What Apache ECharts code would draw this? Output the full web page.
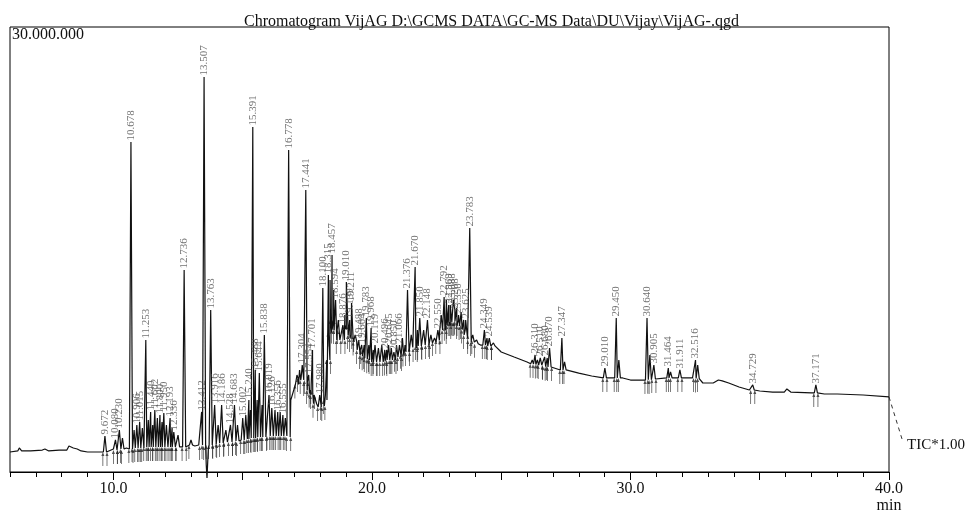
<!DOCTYPE html>
<html>
<head>
<meta charset="utf-8">
<script src="https://cdn.jsdelivr.net/npm/echarts@6/dist/echarts.min.js"></script>
<style>html,body{margin:0;padding:0;background:#fff}#c{width:969px;height:515px}</style>
</head>
<body>
<div id="c"></div>
<script>
// ---- data (intensity in millions of counts, time in min) ----
const titleText = 'Chromatogram VijAG D:\\GCMS DATA\\GC-MS Data\\DU\\Vijay\\VijAG-.qgd';
const xLabelValues = [10, 20, 30, 40];
const xMajorTicks = [10, 15, 20, 25, 30, 35, 40];
const yMax = 30;
const detectorLabel = 'TIC*1.00';

// baseline / drift of the trace [time, intensity]
const baseline = [
  [6.00,1.35],[6.30,1.42],[6.36,1.62],[6.45,1.42],[6.80,1.42],[7.25,1.48],[7.35,1.55],[7.50,1.42],
  [7.90,1.48],[8.20,1.48],[8.28,1.75],[8.45,1.62],[8.60,1.55],[8.75,1.42],[9.00,1.35],[9.50,1.35],
  [10.00,1.55],[10.50,1.62],[11.10,1.69],[12.00,1.69],[12.60,1.69],[12.95,1.82],[13.05,1.96],[13.15,1.75],
  [13.30,1.82],[13.59,0.50],[13.62,-0.40],[13.67,1.55],[14.00,1.96],[14.45,2.02],[15.10,2.16],[15.55,2.29],
  [16.00,2.43],[16.50,2.43],[16.70,2.36],[16.86,4.85],[17.00,5.66],[17.20,6.34],[17.38,6.14],[17.60,5.39],
  [17.85,4.52],[18.05,4.31],[18.20,4.85],[18.28,7.50],[18.40,9.60],[18.52,9.60],[18.72,8.90],[18.82,9.20],
  [19.05,9.90],[19.30,8.90],[19.60,7.89],[20.00,7.42],[20.50,7.42],[21.00,7.75],[21.30,8.09],[21.60,8.49],
  [22.00,8.56],[22.40,8.76],[22.70,9.57],[23.00,10.11],[23.30,10.25],[23.50,9.71],[23.70,9.03],[23.90,8.76],
  [24.20,8.56],[24.60,8.56],[25.00,8.09],[25.50,7.75],[26.00,7.42],[26.50,7.21],[27.00,7.01],[27.50,6.88],
  [28.00,6.67],[28.50,6.47],[29.00,6.34],[29.70,6.34],[30.00,6.20],[30.50,6.20],[31.00,6.27],[31.50,6.34],
  [32.00,6.34],[32.40,6.34],[32.80,6.00],[33.20,6.00],[33.40,6.20],[33.55,6.14],[33.80,6.00],[34.20,5.73],
  [34.60,5.53],[35.00,5.46],[35.50,5.39],[35.95,5.39],[36.05,5.60],[36.20,5.39],[37.00,5.33],[37.50,5.26],
  [38.00,5.26],[39.00,5.19],[40.00,5.06]
];

// labelled peaks [retention time, apex intensity, foot intensity]
const peaks = [
  [9.672,2.43,1.35],[10.080,2.16,1.48],[10.230,2.83,1.48],[10.678,22.25,1.55],[10.906,3.17,1.62],
  [11.015,3.37,1.62],[11.253,8.90,1.69],[11.440,4.05,1.69],[11.602,4.18,1.69],[11.800,3.84,1.69],
  [11.950,3.98,1.69],[12.193,3.64,1.69],[12.336,2.70,1.69],[12.736,13.62,1.69],[13.412,4.05,1.75],
  [13.507,26.63,1.82],[13.763,10.92,1.82],[13.916,4.52,1.89],[14.186,4.52,1.96],[14.528,3.17,2.02],
  [14.683,4.52,2.02],[15.002,3.64,2.16],[15.240,4.85,2.22],[15.391,23.26,2.29],[15.488,6.88,2.29],
  [15.644,6.67,2.36],[15.838,9.24,2.36],[16.019,5.19,2.43],[16.126,4.31,2.43],[16.356,4.05,2.43],
  [16.555,3.84,2.43],[16.778,21.71,2.36],[17.304,7.21,6.20],[17.441,19.01,6.07],[17.554,6.54,5.53],
  [17.701,8.23,5.19],[17.980,5.19,4.38],[18.100,12.40,4.45],[18.315,13.28,7.55],[18.457,14.63,10.25],
  [18.594,11.60,9.57],[18.876,9.91,8.90],[19.010,12.81,9.91],[19.139,10.25,9.24],[19.211,11.39,9.03],
  [19.488,8.90,8.23],[19.604,8.56,7.89],[19.783,10.38,7.69],[19.968,9.71,7.55],[20.119,8.56,7.42],
  [20.496,8.23,7.42],[20.645,8.56,7.55],[20.850,8.09,7.55],[21.066,8.56,7.75],[21.376,12.27,8.09],
  [21.670,13.82,8.36],[21.850,10.38,8.49],[22.148,10.25,8.56],[22.550,9.57,8.90],[22.792,11.80,9.57],
  [22.969,11.26,9.91],[23.088,11.26,10.11],[23.208,10.92,10.11],[23.350,10.58,9.91],[23.625,10.25,9.24],
  [23.783,16.45,8.90],[24.349,9.57,8.56],[24.539,9.03,8.49],[26.310,7.89,7.28],[26.510,7.69,7.21],
  [26.680,7.75,7.15],[26.870,8.36,7.08],[27.347,9.03,6.88],[29.010,7.01,6.34],[29.450,10.38,6.34],
  [30.640,10.38,6.20],[30.905,7.21,6.27],[31.464,7.01,6.34],[31.911,6.88,6.34],[32.516,7.55,6.34],
  [34.729,5.87,5.53],[37.171,5.87,5.33]
];

// unlabelled small peaks [retention time, apex intensity, foot intensity]
const minorPeaks = [
  [10.35,2.29,1.55],[10.80,2.83,1.62],[11.12,2.97,1.62],[11.35,3.51,1.69],[11.52,3.17,1.69],
  [11.70,3.64,1.69],[11.88,3.37,1.69],[12.05,3.17,1.69],[12.27,2.97,1.69],[12.50,2.49,1.69],
  [13.00,2.16,1.82],[14.05,3.17,1.96],[14.35,2.83,2.02],[14.80,3.17,2.09],[15.12,3.84,2.16],
  [15.30,4.18,2.22],[15.56,4.85,2.29],[15.75,4.52,2.36],[16.25,4.18,2.43],[16.45,4.05,2.43],
  [16.65,3.64,2.43],[17.10,6.54,5.90],[17.20,6.88,6.34],[17.65,5.87,5.30],[17.80,5.19,4.60],
  [18.20,5.19,4.85],[18.38,12.94,9.40],[18.52,12.27,9.60],[18.70,10.25,8.90],[18.95,10.58,9.60],
  [19.35,9.24,8.80],[19.70,8.56,7.80],[19.88,8.56,7.60],[20.05,8.23,7.42],[20.25,8.36,7.42],
  [20.38,8.56,7.42],[20.57,8.23,7.45],[20.75,8.36,7.55],[20.95,8.56,7.70],[21.18,9.03,7.90],
  [21.28,8.56,8.05],[21.52,9.24,8.40],[21.76,9.57,8.50],[22.00,9.57,8.56],[22.28,9.24,8.70],
  [22.42,9.03,8.76],[22.68,10.58,9.50],[22.88,11.60,9.80],[23.03,11.26,10.11],[23.15,11.60,10.15],
  [23.28,11.06,10.20],[23.45,10.79,9.85],[23.55,10.25,9.60],[23.90,9.24,8.76],[24.05,8.90,8.65],
  [24.45,9.03,8.56],[24.70,8.70,8.50],[26.20,7.55,7.30],[26.40,7.55,7.25],[26.78,7.69,7.10],
  [27.45,7.42,6.88],[29.55,7.55,6.34],[30.75,7.89,6.22],[31.55,6.74,6.34],[32.60,7.21,6.30]
];

// ---- build the trace ----
const halfW = 0.06;
function buildTrace() {
  const all = peaks.concat(minorPeaks);
  const pts = baseline.filter(([t]) => !all.some(p => Math.abs(t - p[0]) < halfW + 0.004)).map(p => p.slice());
  all.forEach(([rt, h, f]) => { pts.push([rt - halfW, f], [rt, h], [rt + halfW, f]); });
  pts.sort((a, b) => a[0] - b[0]);
  return pts;
}
const trace = buildTrace();
const marks = [];
peaks.forEach(([rt, h, f]) => { marks.push([rt - 0.08, f], [rt + 0.08, f]); });
minorPeaks.forEach(([rt, h, f]) => { marks.push([rt - 0.08, f]); });

const serif = 'Liberation Serif';
const chart = echarts.init(document.getElementById('c'), null, {renderer: 'canvas'});
const option = {
  animation: false,
  backgroundColor: '#fff',
  title: {
    text: titleText, left: 239, top: 9,
    textStyle: {fontFamily: serif, fontSize: 16, fontWeight: 'normal', color: '#111'}
  },
  grid: {left: 10, right: 80, top: 27, bottom: 43, show: true, borderColor: '#000', borderWidth: 1,
         backgroundColor: 'transparent', outerBoundsMode: 'none', containLabel: false},
  xAxis: [
    {type: 'value', min: 6, max: 40, interval: 1,
     axisLine: {show: true, onZero: false, lineStyle: {color: '#000', width: 1}},
     axisTick: {show: true, length: 5, lineStyle: {color: '#000'}},
     axisLabel: {customValues: xLabelValues, margin: 8, fontFamily: serif, fontSize: 16, color: '#111', lineHeight: 17,
                 formatter: v => v === 40 ? v.toFixed(1) + '\nmin' : v.toFixed(1)},
     splitLine: {show: false}},
    {type: 'value', min: 6, max: 40, position: 'bottom',
     axisLine: {show: false, onZero: false},
     axisTick: {show: true, length: 8, customValues: xMajorTicks, lineStyle: {color: '#000'}},
     axisLabel: {show: false}, splitLine: {show: false}}
  ],
  yAxis: {type: 'value', min: 0, max: yMax, interval: yMax,
    axisLine: {show: false}, axisTick: {show: false}, splitLine: {show: false},
    axisLabel: {inside: true, margin: 2, verticalAlign: 'top', fontFamily: serif, fontSize: 16, color: '#111',
                formatter: v => v === yMax ? (v * 1e6).toLocaleString('de-DE') : ''}},
  series: [
    {type: 'line', name: 'TIC', data: trace, showSymbol: false, symbol: 'none', clip: false,
     lineStyle: {color: '#111', width: 1.2}, z: 3},
    {type: 'scatter', name: 'marks', data: marks, clip: false,
     symbol: 'path://M2,0 L4,4 L2.5,4 L2.5,14 L1.5,14 L1.5,4 L0,4 Z', symbolSize: [3, 14], symbolOffset: [0, 7],
     itemStyle: {color: '#222'}, z: 2},
    {type: 'scatter', name: 'labels', data: peaks.map(p => [p[0], p[1]]), symbolSize: 1,
     itemStyle: {color: 'rgba(0,0,0,0)'},
     label: {show: true, position: 'top', distance: 1, rotate: 90, align: 'left', verticalAlign: 'middle',
             fontFamily: serif, fontSize: 11, color: '#4d4d4d',
             formatter: p => p.value[0].toFixed(3)}, z: 4}
  ]
};
chart.setOption(option);
const last = trace[trace.length - 1];
const end = chart.convertToPixel({xAxisIndex: 0, yAxisIndex: 0}, last);
chart.setOption({graphic: [
  {type: 'line', shape: {x1: end[0], y1: end[1], x2: end[0] + 13, y2: end[1] + 42},
   style: {stroke: '#333', lineWidth: 1, lineDash: [4, 4]}},
  {type: 'text', x: end[0] + 18, y: end[1] + 48,
   style: {text: detectorLabel, fontFamily: serif, fontSize: 15, fill: '#111', verticalAlign: 'middle'}}
]});
</script>
</body>
</html>
